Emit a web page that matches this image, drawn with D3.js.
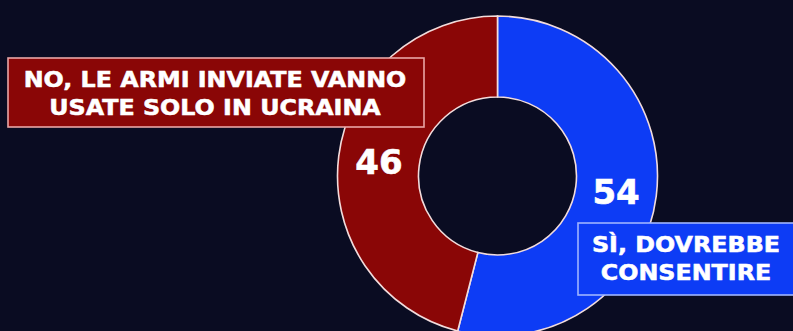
<!DOCTYPE html>
<html>
<head>
<meta charset="utf-8">
<script src="https://cdn.jsdelivr.net/npm/d3@7"></script>
<style>
  html, body { margin: 0; padding: 0; background: #0a0c22; }
  svg { display: block; }
</style>
</head>
<body>
<div id="chart"></div>
<script>
const categories = ["SÌ, DOVREBBE CONSENTIRE", "NO, LE ARMI INVIATE VANNO USATE SOLO IN UCRAINA"];
const values = [54, 46];
const colors = ["#0d3cf5", "#8a0606"];
const labelLines = [
  ["SÌ, DOVREBBE", "CONSENTIRE"],
  ["NO, LE ARMI INVIATE VANNO", "USATE SOLO IN UCRAINA"],
];

const WIDTH = 793;
const HEIGHT = 331;
const CX = 497.5;
const CY = 176;
const OUTER_R = 160;
const INNER_R = 79;
const FONT = "'DejaVu Sans', Verdana, sans-serif";
const WIDEN = 1.16; // reference face is wider than DejaVu Sans Bold

const svg = d3
  .select("#chart")
  .append("svg")
  .attr("width", WIDTH)
  .attr("height", HEIGHT)
  .attr("viewBox", [0, 0, WIDTH, HEIGHT]);

svg.append("rect").attr("width", WIDTH).attr("height", HEIGHT).attr("fill", "#0a0c22");

const pie = d3.pie().sort(null).value((d) => d);
const arc = d3.arc().innerRadius(INNER_R).outerRadius(OUTER_R);
const arcs = pie(values);

const gPie = svg.append("g").attr("transform", `translate(${CX},${CY})`);
gPie
  .selectAll("path")
  .data(arcs)
  .join("path")
  .attr("d", arc)
  .attr("fill", (d, i) => colors[i])
  .attr("stroke", "#f2dcdc")
  .attr("stroke-width", 1.6);

// label boxes (drawn over the ring)
const boxes = [
  { x: 578, y: 223, w: 216, h: 72, cx: 686, base: 252, stroke: "#9fb4ff" },
  { x: 8, y: 58, w: 416, h: 69, cx: 215, base: 87, stroke: "#e9a6a6" },
];

boxes.forEach((b, i) => {
  svg
    .append("rect")
    .attr("x", b.x)
    .attr("y", b.y)
    .attr("width", b.w)
    .attr("height", b.h)
    .attr("fill", colors[i])
    .attr("stroke", b.stroke)
    .attr("stroke-width", 1.6);
  labelLines[i].forEach((line, j) => {
    const t = svg
      .append("text")
      .attr("x", b.cx)
      .attr("y", b.base + j * 27.5)
      .attr("text-anchor", "middle")
      .attr("font-family", FONT)
      .attr("font-weight", "bold")
      .attr("font-size", 20.5)
      .attr("fill", "#ffffff")
      .attr("stroke", "#ffffff")
      .attr("stroke-width", 0.5)
      .text(line);
    const len = t.node().getComputedTextLength();
    t.attr("textLength", len * WIDEN).attr("lengthAdjust", "spacingAndGlyphs");
  });
});

// value labels at arc centroids
gPie
  .selectAll("text.value")
  .data(arcs)
  .join("text")
  .attr("class", "value")
  .attr("x", (d) => arc.centroid(d)[0])
  .attr("y", (d) => arc.centroid(d)[1] + 13)
  .attr("text-anchor", "middle")
  .attr("font-family", FONT)
  .attr("font-weight", "bold")
  .attr("font-size", 34)
  .attr("fill", "#ffffff")
  .attr("stroke", "#ffffff")
  .attr("stroke-width", 0.6)
  .text((d) => d.data);
</script>
</body>
</html>
